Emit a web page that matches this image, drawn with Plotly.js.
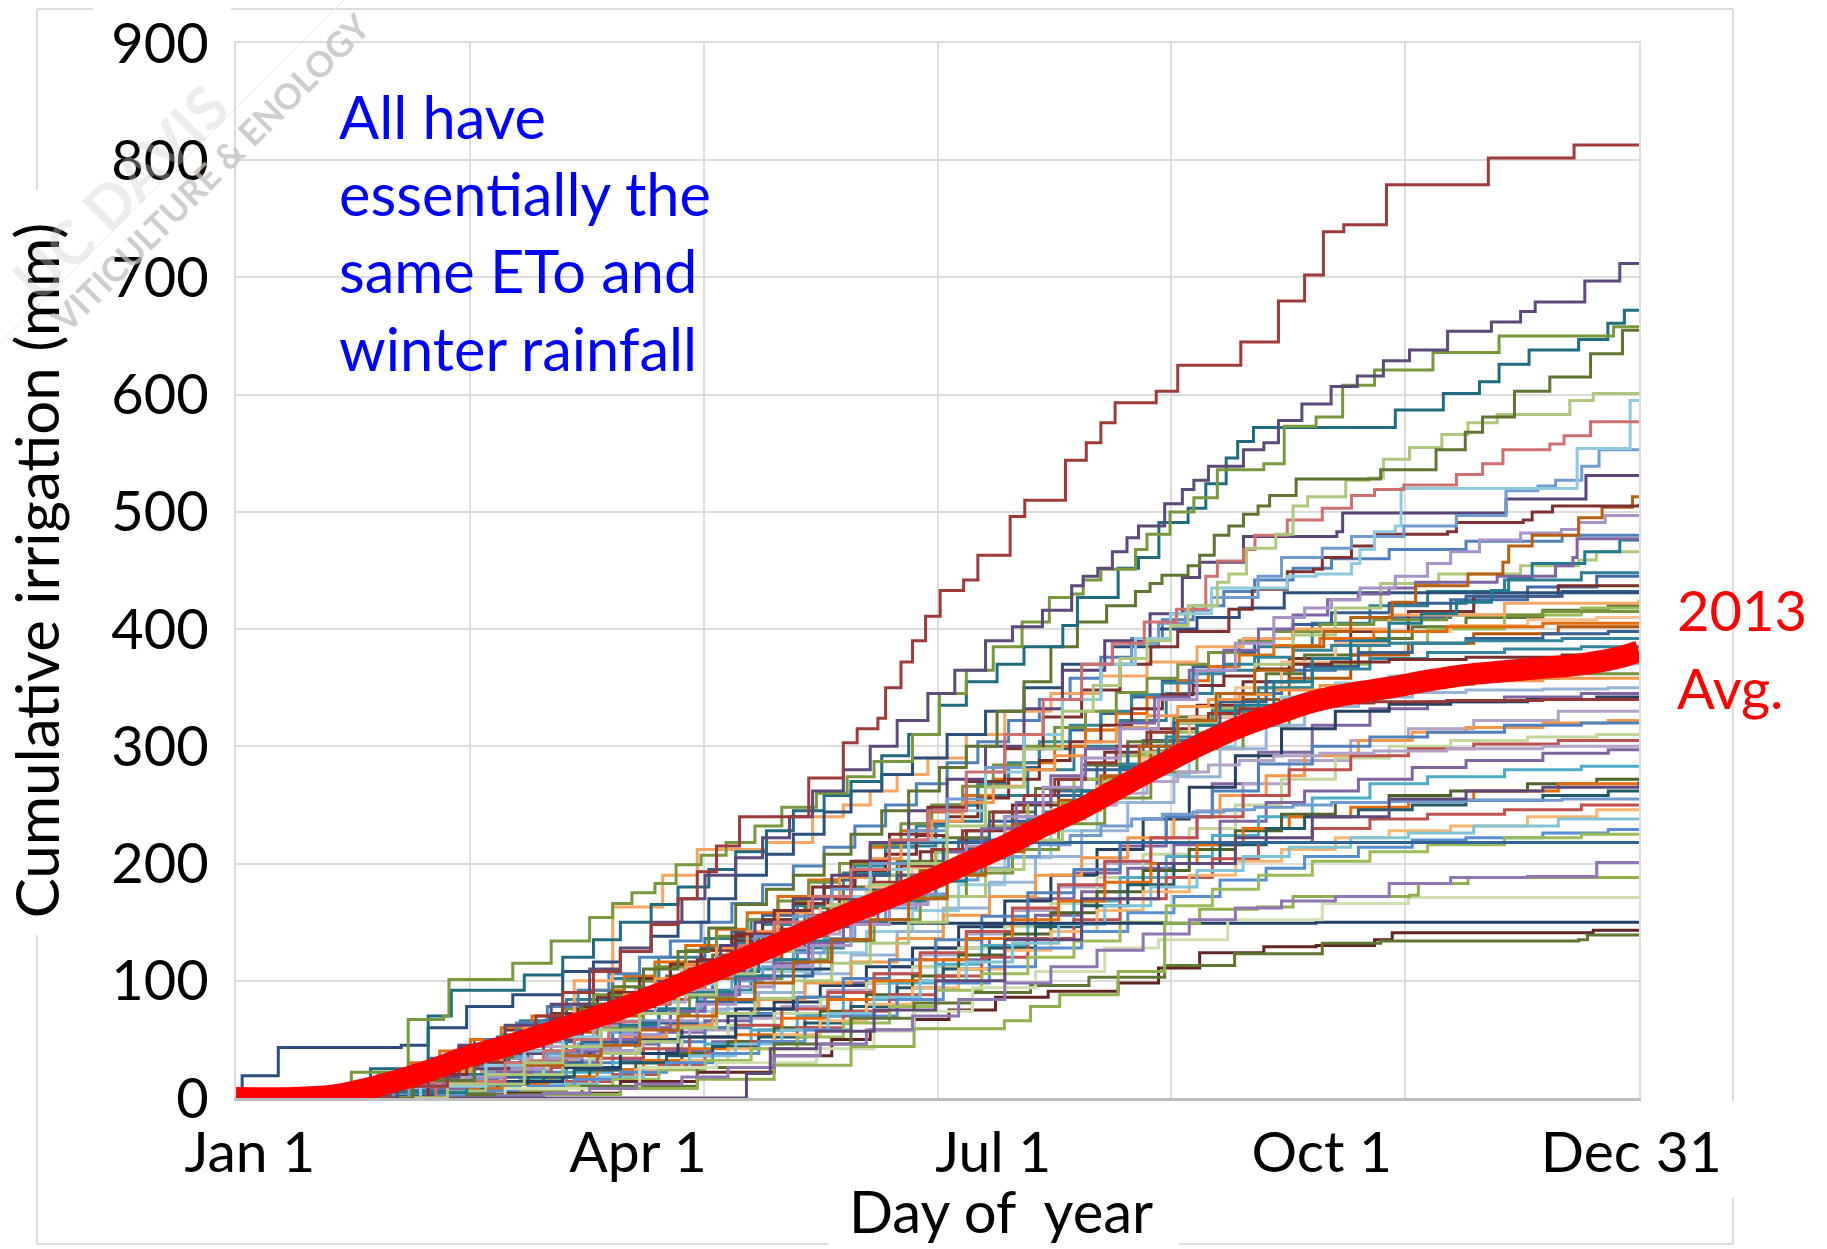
<!DOCTYPE html>
<html><head><meta charset="utf-8">
<script src="https://cdn.plot.ly/plotly-3.0.1.min.js"></script>
<style>html,body{margin:0;padding:0;background:#fff}</style></head>
<body><div id="chart" style="width:1827px;height:1249px"></div>
<script>
// ---- axis content ----
const yTickVals=[0,100,200,300,400,500,600,700,800,900];
const gridDays=[0,60.8,121.7,182.5,243.3,304.2,365];
const labelDays=[3.6,104.6,197,282.5,363];
const labelText=['Jan 1','Apr 1','Jul 1','Oct 1','Dec 31'];

// ---- average ----
const avgDays=[0,15,25,30,40,50,60,70,80,90,100,110,120,130,140,150,160,170,180,190,200,210,220,230,240,250,260,270,280,290,300,310,320,330,340,350,360,365];
const avgMm=[0,0,2,5,13,23,35,44,54,65,76,89,103,116,130,144,158,171,185,200,215,232,247,265,283,300,315,327,338,345,350,356,361,364,367,370,376,381];

// ---- series read one by one ----
const brownDays=[0,22,40,55,63,70,78,85,93,100,108,115,120,125,131,142,149,158,161.6,167,169,173,176,179.4,183.2,189.3,193,201.4,205.2,215.8,221.2,225,228.7,239.4,245,261.4,271.2,278,282.9,288.2,299.3,325.8,348.1,365];
const brownMm=[0,0,10,28,38,50,70,90,108,125,148,170,193,215,240,240,273,303,315,324,350,372,390,411,433,442,463,496,510,544,559,576,593,603,625,645,680,702,739,745,779,802,813,813];
const purpleTopDays=[0,25,42,58,70,82,92,100,108,116,122,130,137,144,150,158,165,172,180,187,195,202,209.8,217.4,220.4,224.2,228,231.8,234.8,241.6,246.2,249.2,253,262.1,267.4,271.2,277.3,284.9,291.7,298.5,305.3,315.2,326.6,334.2,338,350.9,360,365];
const purpleTopMm=[0,0,18,45,62,80,110,128,150,170,190,205,222,240,262,280,300,322,345,365,390,402,416,437,445,452,466,478,488,507,519,527,539,553,559,578,592,607,616,629,638,654,662,671,679,697,712,712];
const oliveDays=[0,30,44.8,54,55.4,72,81,82,92,98,103,109,114.5,121,127.5,135,142,151,159,166,176,183,190,197,204.5,211.6,217.4,220.4,225,234,237,243,249.2,255.3,267.4,272.7,281,287.9,296.2,309.1,311.4,326.6,328.6,355.4,358.4,365];
const oliveMm=[0,22,67,70,101,115,115,134,154,166,175,183,199,207,218,232,248,260,274,287,310,345,365,385,406,427,430,442,451,468,481,500,512,536,541,573,581,608,621,621,636,636,650,650,658,658];
const tealDays=[0,18,35,50,56,65,75,85,93,100,108,115,123,130,138,145,153,160,168,175,183,190,198,205,215.1,218.9,229.5,234.8,240.1,247.7,252.3,257.6,260.6,264.7,300,301.6,312.9,314.1,322,323.5,328.6,336.4,349.3,356.9,361.2,365];
const tealMm=[0,0,25,70,92,92,105,120,135,150,165,180,195,210,228,245,258,270,292,310,335,355,370,385,403,427,452,461,491,503,524,546,560,572,572,587,587,601,601,611,626,638,647,661,672,672];
const darkOliveDays=[0,30,46,62,72,80,90,98,106,115,123,130,138,145,153,160,168,175,183,190,198,205,212,218.9,226.5,234,237.8,240.9,247.7,250.7,254.5,258.3,262.1,265.9,268.9,275.8,294.7,297.8,310.7,312.2,318.2,319.8,324.3,332.6,341.8,352.4,360.7,365];
const darkOliveMm=[0,0,15,35,50,62,80,95,110,125,145,165,178,190,208,225,245,262,282,300,330,355,385,406,420,432,439,446,454,463,480,488,498,505,514,528,528,536,536,553,553,568,581,603,615,635,655,655];
const lightGreenDays=[0,35,55,65,75,85,95,105,115,125,135,145,155,165,175,185,195,205,215,223,230,237,243.1,247.7,255.3,258.3,262.9,270.5,275,278.8,288.7,294.7,298.5,305.3,313.7,320.5,328.1,342.5,347,353.1,365];
const lightGreenMm=[0,0,12,20,30,44,58,72,88,106,125,145,165,182,200,232,265,298,330,352,375,390,403,420,440,447,469,481,505,513,527,529,545,555,566,576,583,583,595,601,601];
const pinkDays=[0,35,52,70,80,88,97,105,113,122,131,140,150,160,170,180,190,200,210,220,228,236.3,244.7,252.3,255.3,262.1,265.1,273.5,282.6,290.2,296.2,303.8,317.5,324.3,329.6,341.8,345.5,352.4,365];
const pinkMm=[0,0,14,30,40,50,65,80,95,110,130,150,172,195,220,245,278,310,340,370,388,406,417,445,458,468,480,493,503,514,519,523,532,541,553,558,565,577,577];
const skyDays=[0,30,48,65,75,85,95,105,115,125,135,145,155,165,175,185,195,205,215,225,234,243.1,253.8,273.5,281,290.2,292.4,296.2,301.6,303.1,348.9,362.7,365];
const skyMm=[0,0,10,28,40,52,66,82,97,112,130,150,172,195,220,245,278,310,340,370,392,413,435,445,447,456,468,483,488,520,554,595,595];
const steelDays=[0,25,45,65,75,85,95,105,115,125,135,145,155,165,175,185,195,205,215,225,233,240,247,253.8,265.9,272,282.6,290.2,303.8,317.5,330.4,338.7,343.3,350.1,354.6,365];
const steelMm=[0,0,15,35,48,60,74,88,104,120,138,155,178,200,228,255,282,310,340,370,388,405,416,427,445,461,469,479,488,497,518,522,527,539,553,553];
const plumDays=[0,28,45,62,71,80,90,100,109,118,126,135,145,155,165,175,185,195,205,215,226,237.8,246.2,250.7,262.1,286.4,287.9,324.3,330.4,349.3,351.2,365];
const plumMm=[0,0,10,25,38,50,64,78,94,110,130,150,170,190,218,245,272,300,332,365,390,413,444,457,479,483,499,499,511,511,531,531];
const maroonDays=[0,30,50,60,70,80,90,100,110,120,130,140,150,160,170,180,190,200,210,220,230,238,245,258.3,264.4,273.5,280.3,282.6,290.2,296.2,315.2,317.5,334.9,337.2,342.5,365];
const maroonMm=[0,0,20,30,40,52,65,80,95,118,140,160,180,202,225,248,270,298,325,348,370,385,398,417,434,449,451,461,471,481,483,491,493,500,505,507];
const burntDays=[0,35,55,65,75,85,95,105,115,125,135,145,155,165,175,185,195,205,215,225,235,245,255,265,275,283,290,300.8,306.9,320.5,329.6,331.1,337.2,349.3,355.4,363.3,365];
const burntMm=[0,0,12,20,28,36,45,58,70,84,98,116,135,152,170,190,210,230,250,275,300,322,345,365,385,398,410,423,437,447,457,471,480,495,504,513,513];
const lilacDays=[0,30,50,60,70,80,90,100,110,120,130,140,150,160,170,180,190,200,210,220,230,240,250,260,270,278,285,292.4,301.6,310,316,323.5,334.2,344.8,349.3,356.2,365];
const lilacMm=[0,0,10,18,25,34,42,54,66,80,95,112,130,148,165,190,215,240,265,290,315,340,365,388,410,418,425,435,445,456,466,476,482,485,491,497,497];
const violetDays=[0,32,50,59,68,77,86,95,104,113,122,131,140,149,158,167,176,185,194,203,212,221,230,239,248,257,266,275,284,292,300,306.9,328.1,343.3,347.8,348.9,365];
const violetMm=[0,0,8,15,22,31,40,50,60,74,88,102,115,132,150,170,190,210,230,252,275,298,320,342,365,382,400,412,425,430,435,440,445,454,461,477,476];
const teal2Days=[0,40,60,70,80,90,100,110,120,130,140,150,160,170,180,190,200,210,220,230,240,250,260,270,280,290,300,308.4,317.5,326.6,331.1,337.2,350.9,360,365];
const teal2Mm=[0,5,20,30,40,50,62,76,90,104,118,134,150,168,185,205,225,244,262,282,300,318,335,355,375,390,405,413,423,433,444,456,466,476,476];
const sage2Days=[0,35,55,65,75,85,95,105,115,125,135,145,155,165,175,185,195,205,215,225,235,245,255,265,275,286,297.8,312.9,334.2,349.3,353.9,365];
const sage2Mm=[0,0,6,12,20,28,38,48,60,72,85,100,115,132,150,172,195,220,245,270,295,320,345,370,395,418,439,447,454,459,466,466];
const navyDays=[0,1.6,11,43,50,60,72,85,93,100,108,115,123,130,138,145,153,160,168,176,185,195,205,215,228,240,250,261,272.7,365];
const navyMm=[0,19,43,45,60,78,88,108,116,125,138,150,170,190,208,225,244,262,276,290,310,330,350,370,385,400,410,418,431,431];
const peachDays=[0,30,45,62,75,88,98,111,120,138,150,158,165,172,180,190,200,212,225,237,250,262,275,300,330,365];
const peachMm=[0,5,20,40,60,100,163,190,212,218,240,250,262,276,290,310,330,345,360,372,385,392,400,412,422,425];
const flat218Days=[0,30,45,60,75,90,105,120,135,150,160,170,365];
const flat218Mm=[0,0,6,18,30,48,64,82,104,150,190,218,218];
const green187Days=[0,60,80,100,120,140,160,176.4,199.9,206.7,214.3,229.5,241.6,250.7,265.7,275,305.3,307.6,320.5,365];
const green187Mm=[0,0,3,8,16,28,44,59,66,78,88,108,149,161,163,172,173,183,188,188];
const pale172Days=[0,70,105,125,151,166,176.4,191.6,208,226,240,258,282.6,305,365];
const pale172Mm=[0,8,26,30,42,57,74,94,108,128,135,152,166,171,172];
const purple200Days=[0,28,42,56,68,80,92,104,116,128,140,152,164,176,188,200,212,224,236,248,260,272,286,300,316,336,354,365];
const purple200Mm=[0,0,0,0,2,4,8,12,18,26,36,46,58,70,84,98,112,126,140,152,162,168,172,183,188,189,201,201];
const navy150Days=[0,22,45,65,85,100,115,130,145,155,165,281,365];
const navy150Mm=[0,0,5,14,26,38,52,76,110,135,149,150,150];
const wine142Days=[0,40,70,100,120,140,155,165,176.4,185.5,197.6,211.3,229.5,240,250.7,267.4,281,296.2,300.8,350.9,353.1,365];
const wine142Mm=[0,0,4,14,22,36,50,58,67,75,86,91,98,111,124,129,130,135,141,141,143,143];
const moss139Days=[0,60,90,120,140,160,176.4,191.6,206.7,221.9,241.6,259.8,282.6,297.8,349.3,351.6,365];
const moss139Mm=[0,3,10,26,46,68,81,90,96,103,113,123,132,134,135,139,139];
const lateStartDays=[0,127.5,132.8,139,151,166,182,200,220,240,260,280,300,320,340,365];
const lateStartMm=[0,0,21,42,57,75,100,135,170,200,222,240,255,262,265,270];

// ---- stepping calendars for the remaining series ----
const stepsA=[20,35,50,62,74,86,98,110,122,134,146,158,170,182,194,206,218,230,242,254,266,280,295,310,330,350];
const stepsB=[28,42,56,68,80,92,104,116,128,140,152,164,176,188,200,212,224,236,248,260,272,286,300,316,336,354];
const stepsC=[15,30,46,58,70,82,94,106,118,130,142,154,166,178,190,202,214,226,238,250,262,274,290,305,322,344];
const stepsD=[38,52,64,76,88,100,112,124,136,148,160,172,184,196,208,220,232,244,256,268,278,292,306,320,340,357];
const stepsE=[24,33,41,49,57,65,73,81,89,97,105,113,121,129,137,145,153,161,169,177,185,193,201,209,217,225,233,241,249,257,265,275,285,300,320,345];
const stepsF=[18,27,37,45,53,61,69,77,85,93,101,109,117,125,133,141,149,157,165,173,181,189,197,205,213,221,229,237,245,253,261,270,282,296,315,340];

const end450=[2,14,34,50,66,84,102,120,136,152,170,192,215,236,258,280,300,322,345,365,385,405,420,432,442,448];
const end445=[2,18,36,52,66,80,94,110,124,140,158,178,198,220,240,262,284,305,325,345,365,390,410,425,436,445];
const end437=[0,10,28,44,58,72,86,100,116,134,150,170,190,210,228,250,272,295,315,335,355,375,398,415,428,437];
const end420=[8,28,44,58,72,88,104,122,140,162,180,202,222,244,264,284,304,325,345,362,378,392,402,410,416,420];
const end418=[0,10,24,38,52,66,80,94,112,130,148,168,190,210,232,252,272,292,312,332,350,370,388,400,412,418];
const end410=[4,18,36,50,64,78,92,112,130,148,164,180,196,212,228,246,266,290,325,350,372,388,398,403,408,410];
const end402=[0,6,20,32,44,56,70,84,102,120,138,156,176,194,214,234,254,274,296,318,340,358,378,388,396,402];
const end398=[4,20,34,48,60,74,90,108,126,146,168,190,212,236,258,280,300,320,338,355,368,380,388,392,396,398];
const end385=[0,6,16,26,38,50,62,76,92,110,128,148,170,192,215,238,262,285,308,330,350,366,375,380,383,385];
const end370=[0,6,14,24,36,48,60,74,90,108,124,142,160,182,205,228,252,276,300,322,342,354,360,364,367,370];
const end362=[0,8,20,30,40,50,60,72,86,102,118,134,152,172,192,212,234,256,278,298,318,336,348,353,358,362];
const end350=[4,12,22,32,44,54,64,76,90,106,122,142,162,184,206,228,252,274,298,318,334,342,346,348,349,350];
const end345=[0,4,12,20,28,38,46,56,66,76,86,98,112,128,148,170,192,215,240,268,295,318,332,338,342,345];
const end342=[0,6,14,22,30,40,50,60,70,82,96,112,128,146,168,190,212,238,265,292,315,330,336,338,340,342];
const end330=[0,2,8,16,24,32,40,48,58,68,78,92,106,122,140,160,180,200,222,245,268,288,305,315,322,330];
const end322=[4,14,24,32,42,52,62,72,84,98,116,136,156,172,190,205,222,240,258,275,292,305,312,316,320,322];
const end320=[0,2,8,14,22,30,38,48,60,72,86,102,118,135,155,175,195,218,240,262,285,300,308,312,318,320];
const end310=[0,4,10,18,26,34,42,52,62,72,84,98,112,128,146,166,188,208,230,250,272,290,300,305,308,310];
const end305=[0,0,6,12,18,26,34,42,52,62,76,90,106,124,142,162,182,202,222,240,258,280,292,298,302,305];
const end297=[2,6,12,18,24,32,40,48,58,70,84,100,118,136,156,176,196,216,236,252,262,272,282,288,294,297];
const end283=[0,0,4,10,16,22,30,38,46,58,70,84,98,114,130,148,168,188,206,224,240,256,268,274,280,283];
const end272=[0,2,6,12,18,24,30,38,48,60,74,88,104,122,140,158,176,194,212,228,242,252,258,262,268,272];
const end268=[0,0,4,8,12,18,24,32,42,54,68,84,100,118,136,152,168,184,200,216,230,240,248,254,262,268];
const end262=[2,6,12,18,24,30,36,44,52,64,78,94,110,128,146,164,182,200,216,230,240,246,250,254,258,262];
const end250=[0,0,0,4,8,14,20,28,38,48,60,74,88,104,120,136,152,170,188,204,218,230,238,242,246,250];
const end246=[0,0,2,5,10,16,24,32,42,54,66,80,94,110,126,142,160,176,190,202,212,222,228,232,240,246];
const end238=[0,0,0,3,6,12,18,26,36,46,58,72,86,100,116,132,148,164,180,194,206,214,222,226,232,238];
const end229=[0,2,6,10,16,22,30,38,48,58,70,84,98,112,128,142,158,172,186,196,206,214,220,222,226,229];
const end225=[0,0,0,2,6,10,16,24,32,42,52,64,78,92,106,120,134,150,164,178,190,202,210,216,222,225];
const end432=[0,8,18,28,38,48,58,68,78,88,100,114,128,142,156,170,186,202,218,234,250,266,282,298,314,328,342,356,368,380,392,404,414,422,428,432];
const end405=[2,10,20,30,40,50,60,70,80,92,104,116,130,144,158,172,186,200,214,228,244,258,272,286,300,314,328,342,356,368,378,386,392,398,402,405];
const end392=[0,4,10,18,26,34,44,54,64,76,88,102,116,132,148,164,180,198,214,232,250,268,286,304,318,330,344,354,362,370,376,382,386,388,390,392];
const end415=[0,6,14,22,32,42,54,64,76,88,100,112,126,138,152,168,184,200,216,234,250,266,284,300,316,330,346,358,370,380,390,398,404,408,412,415];
const end378=[0,6,14,24,34,46,56,68,78,90,102,114,126,138,152,166,180,194,208,224,240,256,272,288,304,318,332,344,352,360,366,370,372,374,376,378];
const end300=[0,0,4,10,18,26,34,44,52,62,72,82,92,104,116,128,140,152,166,178,190,202,214,226,238,250,260,270,278,284,288,292,294,296,298,300];
const end255=[0,0,4,8,14,22,30,38,46,56,66,76,88,100,112,124,136,150,162,174,186,196,206,216,224,232,238,242,244,246,248,250,252,253,254,255];
const end340=[0,4,10,18,28,38,48,56,66,76,86,96,108,120,132,144,156,170,184,198,212,228,244,258,272,286,300,312,322,328,332,335,337,338,339,340];
const end480=[0,6,14,24,36,50,64,78,92,106,120,134,150,166,182,198,214,232,250,268,286,304,322,340,358,376,392,408,420,432,442,452,460,468,475,480];
const end358=[0,2,8,14,22,30,40,50,62,74,88,102,114,128,142,158,172,188,204,220,236,252,266,280,292,304,316,326,334,340,344,348,352,354,356,358];

// ---- texts ----
const noteLines=['All have','essentially the','same ETo and','winter rainfall'];
const avgLines=['2013','Avg.'];
const xTitle='Day of  year';
const yTitle='Cumulative irrigation (mm)';

// ---- pairing of series and colours ----
const seriesDays=[stepsA,stepsB,stepsC,stepsD,stepsA,stepsB,stepsC,stepsD,stepsA,stepsB,stepsC,stepsD,stepsA,stepsB,stepsC,stepsD,stepsA,stepsB,stepsC,stepsD,stepsA,stepsB,stepsC,stepsD,stepsA,stepsB,stepsC,stepsD,stepsA,stepsE,stepsF,stepsE,stepsF,stepsE,stepsF,stepsE,stepsF,stepsE,stepsF];
const seriesMm=[end450,end445,end437,end420,end418,end410,end402,end398,end385,end370,end362,end350,end345,end342,end330,end322,end320,end310,end305,end297,end283,end272,end268,end262,end250,end246,end238,end229,end225,end432,end405,end392,end415,end378,end300,end255,end340,end480,end358];
const seriesColors=['#2F7F93','#3F6CA8','#7A2E2C','#5F7530','#9BBB59','#FAC090','#B65708','#366092','#31859C','#93CDDD','#77933C','#95B3D7','#8064A2','#254061','#B3A2C7','#F79646','#4F81BD','#C3D69B','#C0504D','#8064A2','#4BACC6','#4F6228','#E46C0A','#215968','#C0504D','#FAB56F','#7FC4D6','#558ED5','#9BBB59','#366092','#E46C0A','#31859C','#77933C','#7A2E2C','#B3A2C7','#6F9BD1','#953735','#4F81BD','#F79646'];
const namedSeries=[
 [navy150Days,navy150Mm,'#1F3F66'],[wine142Days,wine142Mm,'#632523'],[moss139Days,moss139Mm,'#5F7530'],
 [pale172Days,pale172Mm,'#CFDFAE'],[green187Days,green187Mm,'#8FB04C'],[purple200Days,purple200Mm,'#9075B5'],
 [flat218Days,flat218Mm,'#2E6496'],[lateStartDays,lateStartMm,'#60497A'],[peachDays,peachMm,'#F7A560'],
 [navyDays,navyMm,'#2A4F7C'],[sage2Days,sage2Mm,'#AFC77A'],[teal2Days,teal2Mm,'#1F7B8F'],
 [violetDays,violetMm,'#7E63A6'],[lilacDays,lilacMm,'#A892C8'],[burntDays,burntMm,'#B85F10'],
 [maroonDays,maroonMm,'#7F3030'],[plumDays,plumMm,'#5B4478'],[steelDays,steelMm,'#6F9BD1'],
 [skyDays,skyMm,'#8CCBDD'],[pinkDays,pinkMm,'#CF6F6F'],[lightGreenDays,lightGreenMm,'#AFC77A'],
 [darkOliveDays,darkOliveMm,'#5F7530'],[tealDays,tealMm,'#1F6B80'],[oliveDays,oliveMm,'#77993C'],
 [purpleTopDays,purpleTopMm,'#5B4A7A'],[brownDays,brownMm,'#9E3A3A']
];

// ---- traces ----
const stepTrace=(xs,ys,color)=>({x:xs,y:ys,xaxis:'x2',yaxis:'y',type:'scatter',mode:'lines',
  line:{shape:'hv',width:3,color:color},hoverinfo:'skip',showlegend:false});
const traces=[{x:[],y:[],xaxis:'x',yaxis:'y',type:'scatter',mode:'lines',showlegend:false,hoverinfo:'skip'}];
seriesMm.forEach((m,i)=>traces.push(stepTrace([0].concat(seriesDays[i],[365]),[0].concat(m,[m[m.length-1]]),seriesColors[i])));
namedSeries.forEach(s=>traces.push(stepTrace(s[0],s[1],s[2])));
traces.push({x:avgDays,y:avgMm,xaxis:'x2',yaxis:'y',type:'scatter',mode:'lines',name:'2013 Avg.',
  line:{color:'#ff0000',width:22,shape:'spline'},showlegend:false});

// ---- page geometry ----
const W=1827,H=1249,L=236,R=1639,T=43,B=1098;
const px=v=>(v-L)/(R-L), py=v=>(B-v)/(B-T);
const FONT='Lato, Carlito, sans-serif';
const text=(t,x,y,size,color,extra)=>Object.assign({text:t,xref:'paper',yref:'paper',x:px(x),y:py(y),xanchor:'left',yanchor:'middle',
  showarrow:false,font:{family:FONT,size:size,color:color}},extra||{});

const frameColor='#dcdcdc';
const seg=(x0,y0,x1,y1)=>({type:'line',xref:'paper',yref:'paper',x0:px(x0),y0:py(y0),x1:px(x1),y1:py(y1),line:{color:frameColor,width:2},layer:'below'});
const shapes=[seg(37,9,93,9),seg(231,9,1733,9),seg(37,9,37,190),seg(37,935,37,1244),seg(37,1244,828,1244),seg(1179,1244,1733,1244),seg(1733,9,1733,1101),seg(1733,1198,1733,1244),
  Object.assign(seg(0,343,344,0),{line:{color:'#e8e8e8',width:1}})];

const annotations=[
  text('<b>UC DAVIS</b>',120,192,60,'rgba(205,205,205,0.38)',{xanchor:'center',textangle:-45}),
  text('<b>VITICULTURE &amp; ENOLOGY</b>',210,172,35,'rgba(190,190,190,0.75)',{xanchor:'center',textangle:-45}),
  text(noteLines[0],337,116,59.5,'#0000ff'),text(noteLines[1],337,193,59.5,'#0000ff'),
  text(noteLines[2],337,270,59.5,'#0000ff'),text(noteLines[3],337,348,59.5,'#0000ff'),
  text(avgLines[0],1675,609,56,'#ff0000'),text(avgLines[1],1675,687,56,'#ff0000'),
  text(xTitle,1001,1211,58,'#000000',{xanchor:'center'})
];

const layout={width:W,height:H,margin:{l:L,r:W-R,t:T,b:H-B,pad:0},paper_bgcolor:'#fff',plot_bgcolor:'#fff',showlegend:false,
  font:{family:FONT,color:'#000'},
  xaxis:{range:[0,365],tickmode:'array',tickvals:gridDays,showticklabels:false,showgrid:true,gridcolor:frameColor,gridwidth:2,zeroline:false,
    showline:true,mirror:true,linecolor:frameColor,linewidth:2,ticks:''},
  xaxis2:{range:[0,365],overlaying:'x',anchor:'y',side:'bottom',tickmode:'array',tickvals:labelDays,ticktext:labelText,showgrid:false,zeroline:false,
    showline:true,linecolor:'#bfbfbf',linewidth:3,ticks:'',tickfont:{family:FONT,size:57,color:'#000'},ticklabelstandoff:3,tickangle:0},
  yaxis:{range:[0,900],tickmode:'array',tickvals:yTickVals,showgrid:true,gridcolor:frameColor,gridwidth:2,zeroline:false,
    showline:true,mirror:true,linecolor:frameColor,linewidth:2,ticks:'',tickfont:{family:FONT,size:56,color:'#000'},ticklabelstandoff:14,
    title:{text:yTitle,font:{family:FONT,size:60,color:'#000'},standoff:34}},
  shapes:shapes,annotations:annotations};
Plotly.newPlot('chart',traces,layout,{staticPlot:true,displayModeBar:false});
</script></body></html>
